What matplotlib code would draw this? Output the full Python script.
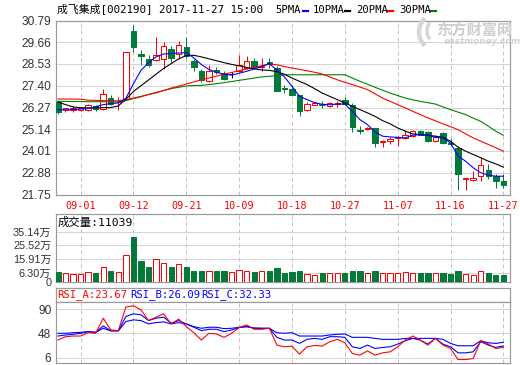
import matplotlib
matplotlib.use('Agg')
import matplotlib.pyplot as plt
from matplotlib.patches import Rectangle, Arc
from matplotlib.lines import Line2D
from matplotlib.transforms import IdentityTransform

# ---------------- data ----------------
dates = ['08-29', '08-30', '08-31', '09-01', '09-04', '09-05', '09-06', '09-07', '09-08',
         '09-11', '09-12', '09-13', '09-14', '09-15', '09-18', '09-19', '09-20', '09-21',
         '09-22', '09-25', '09-26', '09-27', '09-28', '09-29', '10-09', '10-10', '10-11',
         '10-12', '10-13', '10-16', '10-17', '10-18', '10-19', '10-20', '10-23', '10-24',
         '10-25', '10-26', '10-27', '10-30', '10-31', '11-01', '11-02', '11-03', '11-06',
         '11-07', '11-08', '11-09', '11-10', '11-13', '11-14', '11-15', '11-16', '11-17',
         '11-20', '11-21', '11-22', '11-23', '11-24', '11-27']
tick_dates = ['09-01', '09-12', '09-21', '10-09', '10-18', '10-27', '11-07', '11-16', '11-27']

open_ = [26.56, 26.14, 26.15, 26.14, 26.14, 26.37, 26.18, 26.76, 26.53, 26.71,
         30.25, 29.04, 28.80, 28.75, 28.77, 29.32, 29.04, 29.41, 28.70, 28.18,
         27.63, 28.20, 28.06, 28.03, 28.18, 28.32, 28.71, 28.36, 28.62, 28.33,
         27.28, 27.25, 26.94, 26.12, 26.42, 26.45, 26.37, 26.47, 26.64, 26.42,
         25.11, 25.16, 25.21, 24.46, 24.55, 24.66, 24.69, 24.78, 25.07, 25.00,
         24.55, 24.95, 24.40, 24.14, 22.56, 22.50, 22.70, 23.00, 22.70, 22.44]
high = [26.63, 26.25, 26.33, 26.31, 26.45, 26.40, 27.25, 26.94, 26.80, 29.15,
        30.57, 29.27, 28.98, 29.93, 29.68, 29.48, 29.74, 29.91, 28.79, 28.28,
        28.46, 28.35, 28.15, 28.11, 28.98, 28.92, 28.84, 28.86, 28.83, 28.45,
        27.46, 27.46, 26.94, 26.56, 26.63, 26.59, 26.56, 26.63, 26.83, 26.51,
        25.30, 25.26, 25.21, 24.60, 24.72, 24.78, 25.12, 25.12, 25.12, 25.07,
        24.83, 25.00, 24.65, 24.26, 22.62, 22.96, 23.70, 23.31, 22.83, 22.79]
low = [25.95, 26.02, 26.06, 26.10, 26.09, 26.11, 26.13, 26.38, 26.13, 26.66,
       29.15, 28.49, 28.35, 28.66, 28.28, 28.63, 28.80, 28.84, 28.18, 27.58,
       27.59, 28.01, 27.68, 27.80, 28.11, 28.28, 28.28, 28.15, 28.33, 27.13,
       27.02, 26.90, 25.81, 26.07, 26.38, 26.25, 26.30, 26.32, 26.42, 25.00,
       24.90, 25.09, 24.21, 24.21, 24.38, 24.29, 24.61, 24.73, 24.83, 24.48,
       24.47, 24.35, 24.25, 21.98, 21.98, 22.45, 22.45, 22.58, 22.10, 22.10]
close = [26.04, 26.22, 26.25, 26.27, 26.40, 26.20, 26.97, 26.45, 26.58, 29.15,
         29.41, 28.92, 28.46, 29.01, 29.46, 28.82, 29.53, 28.92, 28.35, 27.71,
         28.16, 28.11, 27.75, 28.03, 28.46, 28.66, 28.39, 28.44, 28.52, 27.15,
         27.22, 26.94, 26.07, 26.45, 26.49, 26.38, 26.49, 26.52, 26.45, 25.24,
         25.04, 25.22, 24.43, 24.51, 24.65, 24.74, 24.86, 25.04, 24.86, 24.55,
         24.76, 24.40, 24.35, 22.79, 22.62, 22.62, 23.27, 22.70, 22.44, 22.24]

ma5 = [26.16, 26.15, 26.16, 26.19, 26.21, 26.31, 26.42, 26.47, 26.51, 26.75,
       27.50, 28.20, 28.60, 28.90, 29.05, 29.07, 29.10, 29.12, 28.85, 28.50,
       28.25, 28.10, 28.00, 27.95, 28.05, 28.15, 28.27, 28.40, 28.56, 28.20,
       27.86, 27.37, 26.85, 26.68, 26.52, 26.44, 26.41, 26.45, 26.45, 26.07,
       25.64, 25.38, 25.00, 24.78, 24.74, 24.72, 24.69, 24.83, 24.86, 24.83,
       24.72, 24.69, 24.43, 23.74, 23.48, 23.14, 22.88, 22.76, 22.70, 22.70]
ma10 = [26.56, 26.42, 26.30, 26.26, 26.25, 26.25, 26.26, 26.27, 26.35, 26.70,
        27.10, 27.40, 27.70, 28.00, 28.30, 28.55, 28.80, 28.97, 28.98, 28.90,
        28.80, 28.70, 28.60, 28.51, 28.43, 28.35, 28.28, 28.22, 28.20, 28.13,
        28.00, 27.80, 27.63, 27.46, 27.25, 27.02, 26.85, 26.68, 26.51, 26.33,
        26.16, 25.99, 25.81, 25.59, 25.42, 25.21, 25.04, 24.90, 24.86, 24.83,
        24.78, 24.72, 24.52, 24.21, 24.00, 23.83, 23.66, 23.48, 23.34, 23.17]
ma20 = [26.71, 26.71, 26.71, 26.70, 26.65, 26.64, 26.63, 26.62, 26.62, 26.68,
        26.76, 26.85, 26.94, 27.03, 27.15, 27.28, 27.38, 27.49, 27.60, 27.71,
        27.80, 27.90, 28.00, 28.09, 28.18, 28.27, 28.35, 28.44, 28.52, 28.49,
        28.40, 28.32, 28.25, 28.18, 28.10, 28.01, 27.86, 27.71, 27.58, 27.46,
        27.33, 27.20, 26.98, 26.76, 26.59, 26.42, 26.25, 26.07, 25.90, 25.73,
        25.58, 25.42, 25.27, 25.12, 24.90, 24.69, 24.52, 24.35, 24.18, 24.00]
ma30 = [26.59, 26.59, 26.58, 26.58, 26.57, 26.57, 26.57, 26.56, 26.56, 26.63,
        26.73, 26.83, 26.95, 27.05, 27.15, 27.25, 27.32, 27.39, 27.41, 27.42,
        27.46, 27.51, 27.56, 27.62, 27.68, 27.74, 27.80, 27.86, 27.89, 27.93,
        27.97, 27.97, 27.97, 27.97, 27.97, 27.97, 27.97, 27.97, 27.97, 27.80,
        27.63, 27.48, 27.32, 27.17, 27.02, 26.89, 26.76, 26.67, 26.59, 26.52,
        26.45, 26.30, 26.16, 26.03, 25.90, 25.72, 25.55, 25.30, 25.04, 24.83]

volume = [6.5, 5.8, 5.4, 5.4, 6.5, 5.8, 10.5, 7.7, 6.5, 18.3,
          31.1, 14.3, 10.5, 16.0, 12.9, 10.0, 12.0, 10.0, 7.7, 7.7,
          7.7, 7.2, 7.7, 7.0, 8.2, 7.7, 6.5, 7.7, 7.2, 9.4,
          5.8, 6.5, 7.7, 5.4, 4.9, 5.8, 5.8, 5.8, 5.8, 7.2,
          7.2, 5.8, 7.2, 5.8, 5.8, 5.8, 6.5, 5.8, 5.8, 5.8,
          5.8, 5.8, 5.4, 7.7, 5.4, 4.9, 7.2, 5.8, 4.9, 4.9]   # 万

rsi_a = [36.3, 42.1, 43.3, 43.3, 49.1, 48.0, 74.2, 53.8, 52.6, 93.5,
         95.8, 88.8, 70.1, 76.0, 81.8, 64.3, 72.5, 59.6, 49.1, 36.3,
         48.0, 46.8, 41.0, 48.0, 57.9, 62.6, 55.0, 55.0, 56.7, 27.6,
         24.6, 25.8, 11.8, 24.6, 27.0, 25.8, 33.4, 37.5, 31.6, 13.0,
         10.1, 17.6, 10.1, 14.1, 15.9, 24.6, 36.3, 43.3, 36.3, 27.6,
         39.2, 27.6, 21.7, 2.5, 2.5, 4.2, 35.1, 29.3, 21.7, 23.67]
rsi_b = [43.3, 45.1, 46.2, 48.0, 50.9, 49.7, 60.8, 52.6, 52.6, 77.1,
         81.8, 80.1, 70.1, 74.2, 76.0, 65.5, 70.1, 64.3, 58.5, 52.6,
         55.0, 55.0, 50.9, 53.8, 57.9, 59.6, 56.7, 56.7, 56.7, 41.0,
         36.3, 36.3, 30.5, 37.5, 39.2, 37.5, 42.1, 42.1, 41.0, 24.6,
         21.7, 27.6, 21.7, 23.5, 24.6, 29.3, 35.1, 39.2, 36.3, 29.3,
         39.2, 29.3, 24.6, 14.1, 14.1, 15.9, 33.4, 27.6, 23.5, 26.09]
rsi_c = [48.0, 48.0, 49.1, 49.7, 50.9, 49.7, 56.7, 52.1, 52.1, 68.4,
         71.3, 70.1, 64.3, 66.6, 67.8, 64.3, 66.6, 64.3, 59.6, 56.7,
         58.5, 58.5, 56.1, 56.7, 58.5, 59.6, 57.3, 56.7, 56.7, 49.1,
         48.0, 49.1, 43.3, 43.3, 43.3, 43.3, 45.1, 46.2, 46.8, 41.0,
         41.0, 41.0, 39.2, 37.5, 37.5, 37.5, 39.2, 39.2, 39.2, 39.2,
         39.2, 37.5, 30.5, 26.4, 26.4, 26.4, 35.1, 31.6, 30.5, 32.33]

price_ticks = [30.79, 29.66, 28.53, 27.40, 26.27, 25.14, 24.01, 22.88, 21.75]
vol_ticks = [35.14, 25.52, 15.91, 6.30, 0]
vol_tick_labels = ['35.14万', '25.52万', '15.91万', '6.30万', '0']
rsi_ticks = [90, 48, 6]
title_text = '成飞集成[002190] 2017-11-27 15:00'
ma_names = ['5PMA', '10PMA', '20PMA', '30PMA']
vol_label = '成交量'
vol_last = 11039
rsi_names = ['RSI_A', 'RSI_B', 'RSI_C']

# ---------------- style ----------------
W, H = 520, 365
PX = 0.72
RED = '#ff0000'
GREEN = '#037a3a'
BLUE = '#0000ff'
MA_COLORS = [BLUE, '#000000', RED, '#008000']
GRID = '#d4d4d4'
VGRID = '#c4c4c4'
FRAME = '#9a9a9a'
TXT = '#333333'
MONO = ['DejaVu Sans Mono', 'Noto Sans CJK SC']
SANS = ['Liberation Sans', 'Noto Sans CJK SC']

fig = plt.figure(figsize=(W / 100, H / 100), dpi=100)
fig.patch.set_facecolor('white')


def rect(x0, y0, x1, y1):
    return [x0 / W, 1 - y1 / H, (x1 - x0) / W, (y1 - y0) / H]


def ftext(x, y, s, **kw):
    fig.text(x / W, 1 - y / H, s, va='center', **kw)


n = len(close)
xs = list(range(n))
tick_idx = [dates.index(d) for d in tick_dates]
XL = (-0.32, 59.88)


def frame(ax):
    for s in ax.spines.values():
        s.set_color(FRAME)
        s.set_linewidth(PX * 1.2)
    ax.set_xlim(*XL)
    for t in tick_idx:
        ax.axvline(t, color=VGRID, lw=PX, ls=(0, (4, 3)), zorder=0)


# ---------------- main price panel ----------------
ax = fig.add_axes(rect(55.5, 20.5, 510, 194.5))
frame(ax)
ax.set_ylim(price_ticks[-1], price_ticks[0])
for t in price_ticks[1:-1]:
    ax.axhline(t, color=GRID, lw=PX, zorder=0)

bw = 0.72
for i in xs:
    o, h, l, c = open_[i], high[i], low[i], close[i]
    if c > o:
        col, fc = RED, 'white'
    elif c < o:
        col, fc = GREEN, GREEN
    else:
        col, fc = '#000000', None
    ax.vlines(i, l, h, color=col, lw=PX, zorder=2)
    if fc is None:
        ax.hlines(o, i - bw / 2, i + bw / 2, color=col, lw=PX, zorder=3)
    else:
        ax.add_patch(Rectangle((i - bw / 2, min(o, c)), bw, max(abs(c - o), 0.02),
                               facecolor=fc, edgecolor=col, lw=PX, zorder=3))

for series, col in zip([ma30, ma20, ma10, ma5], MA_COLORS[::-1]):
    ax.plot(xs, series, color=col, lw=PX * 1.1, zorder=4)

ax.set_yticks(price_ticks)
ax.set_yticklabels([f'{t:.2f}' for t in price_ticks])
ax.set_xticks(tick_idx)
ax.set_xticklabels(tick_dates)
ax.tick_params(axis='y', length=0, pad=3, labelsize=8.6, labelcolor=TXT)
ax.tick_params(axis='x', length=0, pad=5, labelsize=7.3, labelcolor=RED)
for lb in ax.get_yticklabels():
    lb.set_fontfamily(SANS)
for lb in ax.get_xticklabels():
    lb.set_fontfamily(MONO)

# watermark (logo swoosh + text)
for (cx, cy, w, h, t1, t2, lw) in [(430, 333, 22, 30, 110, 250, 3.2),
                                   (434, 334, 14, 20, 115, 245, 2.4)]:
    fig.add_artist(Arc((cx, cy), w, h, theta1=t1, theta2=t2, color='#d6d6d6',
                       lw=lw, transform=IdentityTransform()))
ftext(474, 30, '东方财富网', color='#cfcfcf', fontsize=11, ha='center',
      family=['Noto Sans CJK SC'], weight='bold')
ftext(482, 41.5, 'eastmoney.com', color='#d2d2d2', fontsize=6.3, ha='center',
      family=['DejaVu Sans'], weight='bold', style='italic')

# title + legend
ftext(57, 10, title_text, fontsize=7.8, color='#000000', ha='left', family=MONO)
leg_x = [275, 312.7, 356, 399.3]
dash_x = [(302.7, 307.5), (345, 350), (388.3, 393.3), (430.7, 436)]
for name, lx, (d0, d1), col in zip(ma_names, leg_x, dash_x, MA_COLORS):
    ftext(lx, 10, name, fontsize=7.6, color='#000000', ha='left', family=MONO)
    fig.add_artist(Line2D([d0 / W, d1 / W], [1 - 11 / H, 1 - 11 / H],
                          color=col, lw=2.2 * PX, transform=fig.transFigure))

# ---------------- volume panel ----------------
axv = fig.add_axes(rect(55.5, 214, 510, 281.5))
frame(axv)
axv.set_ylim(0, 35.14 * (281.5 - 214) / 50.0)
for t in vol_ticks[:-1]:
    axv.axhline(t, color=GRID, lw=PX, zorder=0)
vbw = 0.7
for i in xs:
    up = close[i] >= open_[i]
    col = RED if up else GREEN
    fc = 'white' if up else GREEN
    axv.add_patch(Rectangle((i - vbw / 2, 0), vbw, volume[i], facecolor=fc,
                            edgecolor=col, lw=PX, zorder=3))
axv.set_yticks(vol_ticks)
axv.set_yticklabels(vol_tick_labels)
axv.set_xticks([])
axv.tick_params(axis='y', length=0, pad=3, labelsize=7.9, labelcolor=TXT)
for lb in axv.get_yticklabels():
    lb.set_fontfamily(SANS)
ftext(57.5, 222.5, f'{vol_label}:{vol_last}', fontsize=8.2, color='#000000',
      ha='left', family=MONO)

# ---------------- RSI panel ----------------
axh = fig.add_axes(rect(55.5, 288.3, 510, 301.7))
for s in axh.spines.values():
    s.set_color(FRAME)
    s.set_linewidth(PX * 1.2)
axh.set_xticks([])
axh.set_yticks([])
rsi_last = [rsi_a[-1], rsi_b[-1], rsi_c[-1]]
for name, val, x0, col in zip(rsi_names, rsi_last, [57.5, 130, 201], [RED, BLUE, BLUE]):
    ftext(x0, 295, f'{name}:{val:.2f}', fontsize=7.6, color=col, ha='left', family=MONO)

axr = fig.add_axes(rect(55.5, 301.7, 510, 363.3))
frame(axr)
axr.set_ylim(-4, 102.8)
for t in rsi_ticks:
    axr.axhline(t, color=GRID, lw=PX, zorder=0)
axr.plot(xs, rsi_c, color=BLUE, lw=PX * 1.1, zorder=3)
axr.plot(xs, rsi_b, color=BLUE, lw=PX * 1.1, zorder=3)
axr.plot(xs, rsi_a, color=RED, lw=PX * 1.1, zorder=4)
axr.set_yticks(rsi_ticks)
axr.set_yticklabels([str(t) for t in rsi_ticks])
axr.set_xticks([])
axr.tick_params(axis='y', length=0, pad=3, labelsize=8.6, labelcolor=TXT)
for lb in axr.get_yticklabels():
    lb.set_fontfamily(SANS)

fig.savefig('out.png', dpi=100, facecolor='white')
